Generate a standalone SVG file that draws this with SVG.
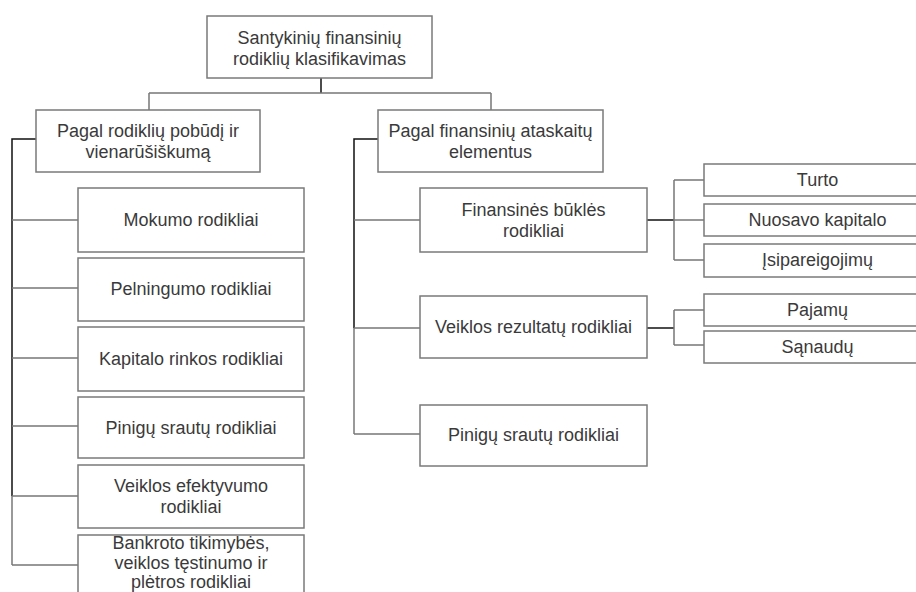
<svg xmlns="http://www.w3.org/2000/svg" width="916" height="592" viewBox="0 0 916 592">
<style>
.box{fill:#fff;stroke:#7a7a7a;stroke-width:1.5}
.t{font-family:"Liberation Sans",Arial,sans-serif;font-size:18px;fill:#3a3a3a;text-anchor:middle}
.c{fill:none;stroke:#777;stroke-width:1.5}
.d{fill:none;stroke:#111;stroke-width:1.5}
</style>
<rect width="916" height="592" fill="#fff"/>
<g id="connectors">
<path class="d" d="M321,78V93"/>
<path class="c" d="M149,93H491M149,93V110M491,93V110"/>
<path class="d" d="M36,139H12V496"/>
<path class="c" d="M12,496V565"/>
<path class="c" d="M12,220H78M12,288H78M12,358H78M12,426H78M12,496H78M12,565H78"/>
<path class="d" d="M378,139H354V328"/>
<path class="c" d="M354,328V434"/>
<path class="c" d="M354,220H420M354,328H420M354,434H420"/>
<path class="d" d="M647,220H674"/>
<path class="c" d="M674,180V260M674,180H704M674,220H704M674,260H704"/>
<path class="d" d="M647,328H674"/>
<path class="c" d="M674,310V345M674,310H704M674,345H704"/>
</g>
<g id="root"><rect class="box" x="207" y="16" width="225" height="62"/><text class="t" x="319.5" y="44">Santykinių finansinių</text><text class="t" x="319.5" y="65">rodiklių klasifikavimas</text></g>
<g id="l1a"><rect class="box" x="36" y="110" width="224" height="62"/><text class="t" x="148" y="137">Pagal rodiklių pobūdį ir</text><text class="t" x="148" y="158">vienarūšiškumą</text></g>
<g id="l1b"><rect class="box" x="378" y="110" width="225" height="62"/><text class="t" x="490.5" y="137">Pagal finansinių ataskaitų</text><text class="t" x="490.5" y="158">elementus</text></g>
<g id="mokumo"><rect class="box" x="78" y="188" width="226" height="64"/><text class="t" x="191" y="226">Mokumo rodikliai</text></g>
<g id="pelningumo"><rect class="box" x="78" y="258" width="226" height="63"/><text class="t" x="191" y="295">Pelningumo rodikliai</text></g>
<g id="kapitalo"><rect class="box" x="78" y="327" width="226" height="64"/><text class="t" x="191" y="365">Kapitalo rinkos rodikliai</text></g>
<g id="pinigu1"><rect class="box" x="78" y="397" width="226" height="61"/><text class="t" x="191" y="434">Pinigų srautų rodikliai</text></g>
<g id="efektyvumo"><rect class="box" x="78" y="465" width="226" height="63"/><text class="t" x="191" y="492">Veiklos efektyvumo</text><text class="t" x="191" y="513">rodikliai</text></g>
<g id="bankroto"><rect class="box" x="78" y="535" width="226" height="70"/><text class="t" x="191" y="549">Bankroto tikimybės,</text><text class="t" x="191" y="569">veiklos tęstinumo ir</text><text class="t" x="191" y="588">plėtros rodikliai</text></g>
<g id="bukles"><rect class="box" x="420" y="188" width="227" height="64"/><text class="t" x="533.5" y="216">Finansinės būklės</text><text class="t" x="533.5" y="237">rodikliai</text></g>
<g id="rezultatu"><rect class="box" x="420" y="296" width="227" height="62"/><text class="t" x="533.5" y="333">Veiklos rezultatų rodikliai</text></g>
<g id="pinigu2"><rect class="box" x="420" y="405" width="227" height="61"/><text class="t" x="533.5" y="441">Pinigų srautų rodikliai</text></g>
<g id="turto"><rect class="box" x="704" y="164" width="227" height="32"/><text class="t" x="817.5" y="186">Turto</text></g>
<g id="nuosavo"><rect class="box" x="704" y="204" width="227" height="32"/><text class="t" x="817.5" y="226">Nuosavo kapitalo</text></g>
<g id="isipareigojimu"><rect class="box" x="704" y="244" width="227" height="33"/><text class="t" x="817.5" y="266">Įsipareigojimų</text></g>
<g id="pajamu"><rect class="box" x="704" y="294" width="227" height="32"/><text class="t" x="817.5" y="316">Pajamų</text></g>
<g id="sanaudu"><rect class="box" x="704" y="331" width="227" height="32"/><text class="t" x="817.5" y="353">Sąnaudų</text></g>
</svg>
